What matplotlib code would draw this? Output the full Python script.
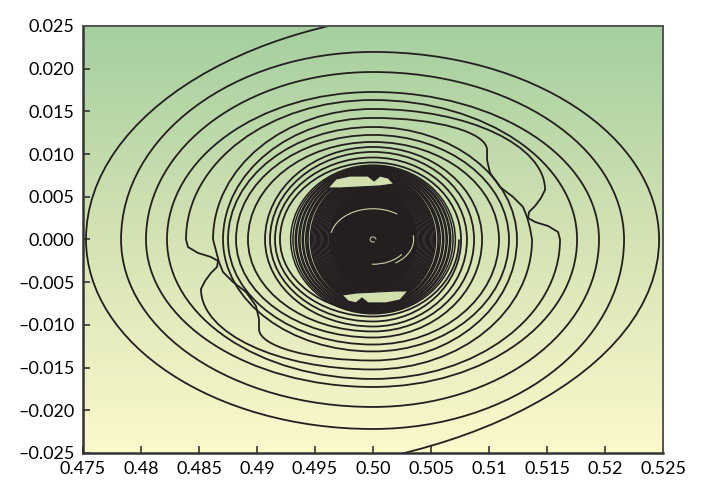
import numpy as np
import matplotlib.pyplot as plt
from matplotlib.path import Path
from matplotlib.patches import PathPatch, Ellipse, Arc, Polygon
from matplotlib.colors import LinearSegmentedColormap

plt.rcParams['font.family'] = ['Lato', 'DejaVu Sans']

center = (0.5, 0.0)

# two spiral arms, radii read at the quadrant crossings (data units)
# arm A comes in over the top edge: left, bottom, right, top, left, ...
arm_a_start = (0.508, 0.0268)
arm_a_radii = [0.02474, 0.02219, 0.02164, 0.01961, 0.01957, 0.01727, 0.01759, 0.01633,
               0.01612, 0.01522, 0.01371, 0.01423, 0.01293, 0.01311, 0.01172, 0.01224,
               0.01181, 0.01148, 0.00940, 0.01083, 0.00931, 0.01019, 0.00810, 0.00960,
               0.00845, 0.00902, 0.00741]
# arm B comes in over the bottom edge: right, top, left, bottom, right, ...
arm_b_start = (0.487, -0.0275)
arm_b_radii = [0.02466, 0.02196, 0.02172, 0.01961, 0.01948, 0.01727, 0.01776, 0.01633,
               0.01612, 0.01528, 0.01379, 0.01417, 0.01241, 0.01317, 0.01250, 0.01230,
               0.01086, 0.01142, 0.01078, 0.01077, 0.00871, 0.01025, 0.00888, 0.00960,
               0.00759, 0.00902, 0.00802, 0.00843]

# kinks: points passed after crossing i, before bending on to crossing i+1
dents_a = {
    8: [(0.48405, -0.00088), (0.48491, -0.00158), (0.48603, -0.00205), (0.48664, -0.00252),
        (0.48655, -0.00322), (0.48603, -0.00392), (0.48552, -0.00486), (0.48517, -0.00580)],
    10: [(0.51353, 0.00135), (0.51328, 0.00263), (0.51293, 0.00381), (0.51207, 0.00498),
         (0.51095, 0.00615), (0.51009, 0.00779), (0.50983, 0.00931), (0.50983, 0.01048)],
}
dents_b = {
    8: [(0.51595, 0.00088), (0.51509, 0.00158), (0.51397, 0.00205), (0.51336, 0.00252),
        (0.51345, 0.00322), (0.51397, 0.00392), (0.51448, 0.00486), (0.51483, 0.00580)],
    10: [(0.48647, -0.00135), (0.48672, -0.00263), (0.48707, -0.00381), (0.48793, -0.00498),
         (0.48905, -0.00615), (0.48991, -0.00779), (0.49017, -0.00931), (0.49017, -0.01048)],
}

# tightly wound inner turns (half widths / half heights)
dense_rx = [0.0071, 0.0069, 0.0067, 0.0066, 0.0064, 0.0063, 0.0061, 0.0060, 0.0058,
            0.0057, 0.0056, 0.0054, 0.0053, 0.0052, 0.0051, 0.0050, 0.0049, 0.0048,
            0.0047, 0.0046, 0.0045, 0.0044, 0.0043, 0.0042, 0.0041, 0.0040, 0.0039]
dense_ry = [0.0087, 0.0086, 0.0085, 0.0084, 0.0083, 0.0082, 0.0081, 0.0080, 0.0079,
            0.0078, 0.0077, 0.0076, 0.0075, 0.0074, 0.0073, 0.0072, 0.0071, 0.0070,
            0.0069, 0.0068, 0.0067, 0.0066, 0.0065, 0.0064, 0.0063, 0.0062, 0.0061]
core_rx, core_ry = 0.0038, 0.0060

# light gaps opening at the top and bottom of the dense band
gap_top = [(0.49612, 0.00603), (0.49681, 0.00708), (0.49802, 0.00743), (0.49957, 0.00743),
           (0.50009, 0.00685), (0.50060, 0.00743), (0.50129, 0.00720), (0.50181, 0.00650),
           (0.50060, 0.00627), (0.49888, 0.00615), (0.49716, 0.00603)]
gap_bottom = [(0.50302, -0.00603), (0.50233, -0.00708), (0.50112, -0.00743), (0.49957, -0.00743),
              (0.49905, -0.00685), (0.49853, -0.00743), (0.49784, -0.00720), (0.49733, -0.00650),
              (0.49853, -0.00627), (0.50026, -0.00615), (0.50198, -0.00603)]

xticks = [0.475, 0.48, 0.485, 0.49, 0.495, 0.50, 0.505, 0.51, 0.515, 0.52, 0.525]
xlabels = ['0.475', '0.48', '0.485', '0.49', '0.495', '0.50', '0.505', '0.51', '0.515', '0.52', '0.525']
yticks = [0.025, 0.02, 0.015, 0.01, 0.005, 0.0, -0.005, -0.01, -0.015, -0.02, -0.025]
ylabels = ['0.025', '0.020', '0.015', '0.010', '0.005', '0.000',
           '\u20130.005', '\u20130.010', '\u20130.015', '\u20130.020', '\u20130.025']

LINE = '#231f20'
GAP = '#d3e0ae'
DIRS = {'right': (1, 0), 'top': (0, 1), 'left': (-1, 0), 'bottom': (0, -1)}
ORDER = ['right', 'top', 'left', 'bottom']


def quarter(p, q, p_on_side, k=0.5523):
    # cubic bezier for a quarter turn, tangent vertical at left/right crossings
    c = (p[0], q[1]) if p_on_side else (q[0], p[1])
    c1 = (p[0] + k * (c[0] - p[0]), p[1] + k * (c[1] - p[1]))
    c2 = (q[0] + k * (c[0] - q[0]), q[1] + k * (c[1] - q[1]))
    return [c1, c2, q]


def spiral_path(start, radii, first, dents):
    i0 = ORDER.index(first)
    pts = [(start, 'top')]
    for n, r in enumerate(radii):
        q = ORDER[(i0 + n) % 4]
        dx, dy = DIRS[q]
        pts.append(((center[0] + dx * r, center[1] + dy * r), q))
    verts = [pts[0][0]]
    codes = [Path.MOVETO]
    for n, ((p, qp), (q, _)) in enumerate(zip(pts[:-1], pts[1:])):
        side = qp in ('right', 'left')
        if (n - 1) in dents:
            kink = dents[n - 1]
            verts += kink
            codes += [Path.LINETO] * len(kink)
            p, side = kink[-1], True
        verts += quarter(p, q, side)
        codes += [Path.CURVE4] * 3
    return Path(verts, codes)


fig = plt.figure(figsize=(7.07, 4.82), dpi=100)
ax = fig.add_axes([0.1174, 0.0602, 0.8204, 0.8859])

cmap = LinearSegmentedColormap.from_list('bg', ['#fcf9cb', '#d5e3b4', '#a5cf9f'])
grad = np.linspace(0, 1, 256).reshape(-1, 1)
ax.imshow(grad, cmap=cmap, origin='lower', aspect='auto',
          extent=[0.475, 0.525, -0.025, 0.025], zorder=0)

for start, radii, first, dents in [(arm_a_start, arm_a_radii, 'left', dents_a),
                                   (arm_b_start, arm_b_radii, 'right', dents_b)]:
    ax.add_patch(PathPatch(spiral_path(start, radii, first, dents), fill=False,
                           edgecolor=LINE, lw=1.3, joinstyle='round', zorder=2))

for rx, ry in zip(dense_rx, dense_ry):
    ax.add_patch(Ellipse(center, 2 * rx, 2 * ry, fill=False, edgecolor=LINE, lw=1.1, zorder=2))

ax.add_patch(Ellipse(center, 2 * core_rx, 2 * core_ry, facecolor=LINE, edgecolor=LINE, zorder=3))
for pts in (gap_top, gap_bottom):
    ax.add_patch(Polygon(pts, closed=True, facecolor=GAP, edgecolor=LINE, lw=0.8, zorder=4))
# thin light gaps left inside the dark core
ax.add_patch(Arc(center, 0.0074, 0.0072, theta1=55, theta2=168, color='#c8d4a2', lw=0.8, zorder=4))
ax.add_patch(Arc(center, 0.0070, 0.0066, theta1=-55, theta2=8, color='#c8d4a2', lw=0.8, zorder=4))
ax.add_patch(Arc(center, 0.0062, 0.0058, theta1=268, theta2=325, color='#c8d4a2', lw=0.8, zorder=4))
ax.add_patch(Arc(center, 0.0005, 0.0006, theta1=0, theta2=300, color='#c8d4a2', lw=0.7, zorder=4))

ax.set_xlim(0.475, 0.525)
ax.set_ylim(-0.025, 0.025)
ax.set_xticks(xticks)
ax.set_xticklabels(xlabels)
ax.set_yticks(yticks)
ax.set_yticklabels(ylabels)
ax.tick_params(direction='in', length=5, width=1.2, color='#333333',
               labelsize=13, pad=6, top=False, right=False)
for side in ['left', 'bottom']:
    ax.spines[side].set_linewidth(1.8)
    ax.spines[side].set_color('#333333')
for side in ['top', 'right']:
    ax.spines[side].set_linewidth(1.4)
    ax.spines[side].set_color('#555555')

fig.savefig('out.png', dpi=100)
